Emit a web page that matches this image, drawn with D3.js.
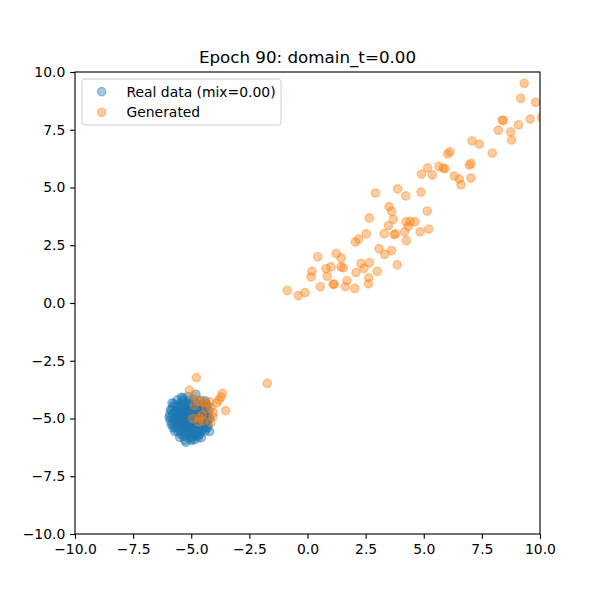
<!DOCTYPE html>
<html>
<head>
<meta charset="utf-8">
<script src="https://cdn.jsdelivr.net/npm/d3@7"></script>
<style>
  body { margin: 0; background: #fff; }
  svg { display: block; font-family: "DejaVu Sans", sans-serif; }
</style>
</head>
<body>
<div id="chart"></div>
<script>
// values
const titleText = "Epoch 90: domain_t=0.00";
const seriesNames = ["Real data (mix=0.00)", "Generated"];
const tickValues = [-10, -7.5, -5, -2.5, 0, 2.5, 5, 7.5, 10];

// real data cluster near (-5, -5)
const realX = [
  -5.83, -5.93, -5.86, -5.71, -5.50, -5.28, -5.23, -4.85, -4.57, -4.21, -4.27, -4.80, -5.35, -5.34, -5.96, -5.90,
  -5.60, -5.35, -5.10, -4.90, -4.60, -4.40,
  -5.75, -5.50, -5.25, -5.05, -4.80, -4.55, -4.35,
  -5.80, -5.60, -5.40, -5.20, -5.00, -4.75, -4.50, -4.30,
  -5.85, -5.65, -5.45, -5.25, -5.05, -4.85, -4.60, -4.40, -4.25,
  -5.80, -5.60, -5.40, -5.15, -4.95, -4.70, -4.50, -4.30,
  -5.85, -5.65, -5.45, -5.25, -5.05, -4.85, -4.65, -4.45, -4.25,
  -5.75, -5.55, -5.35, -5.15, -4.95, -4.70, -4.50, -4.30,
  -5.80, -5.60, -5.40, -5.20, -5.00, -4.80, -4.60, -4.40,
  -5.70, -5.50, -5.30, -5.10, -4.90, -4.65, -4.45, -4.30,
  -5.60, -5.40, -5.20, -5.00, -4.80, -4.60, -4.40,
  -5.45, -5.25, -5.05, -4.85, -4.65,
  -5.10, -4.95, -4.70,
  -5.50, -5.30, -5.10, -4.90, -4.70, -5.45, -5.25, -5.05, -4.85, -4.60,
  -5.55, -5.35, -5.15, -4.95, -4.75, -5.40, -5.20, -5.00, -4.80, -5.30, -5.10, -4.90,
  -5.68, -5.52, -5.33, -5.12, -4.93, -4.72, -4.52, -4.38,
  -5.72, -5.48, -5.28, -5.08, -4.88, -4.68, -4.48,
  -5.62, -5.42, -5.22, -5.02, -4.82, -4.62, -4.42,
  -5.70, -5.50, -5.30, -5.10, -4.90, -4.70, -4.50,
  -5.58, -5.38, -5.18, -4.98, -4.78, -4.58, -4.38,
  -5.65, -5.45, -5.25, -5.05, -4.85, -4.55,
  -5.52, -5.32, -5.12, -4.92, -4.72, -4.52,
  -5.40, -5.20, -5.00, -4.80, -5.30, -5.00, -4.75,
  -5.90, -5.78, -4.20, -4.33, -5.00, -5.15, -5.42, -4.65
];
const realY = [
  -4.33, -4.84, -5.27, -5.56, -5.81, -5.94, -6.03, -5.92, -5.84, -5.56, -5.28, -3.95, -4.11, -4.27, -4.95, -5.10,
  -4.20, -4.18, -4.22, -4.17, -4.21, -4.24,
  -4.35, -4.37, -4.33, -4.36, -4.34, -4.38, -4.36,
  -4.50, -4.52, -4.48, -4.51, -4.49, -4.53, -4.50, -4.48,
  -4.65, -4.67, -4.63, -4.66, -4.64, -4.68, -4.65, -4.62, -4.66,
  -4.80, -4.82, -4.78, -4.81, -4.79, -4.83, -4.80, -4.78,
  -4.95, -4.97, -4.93, -4.96, -4.94, -4.98, -4.95, -4.92, -4.96,
  -5.10, -5.12, -5.08, -5.11, -5.09, -5.13, -5.10, -5.08,
  -5.25, -5.27, -5.23, -5.26, -5.24, -5.28, -5.25, -5.22,
  -5.40, -5.42, -5.38, -5.41, -5.39, -5.43, -5.40, -5.38,
  -5.55, -5.57, -5.53, -5.56, -5.54, -5.58, -5.55,
  -5.70, -5.72, -5.68, -5.71, -5.69,
  -5.85, -5.88, -5.83,
  -4.58, -4.60, -4.57, -4.61, -4.59, -4.88, -4.90, -4.87, -4.91, -4.89,
  -5.02, -5.05, -5.03, -5.01, -5.04, -5.18, -5.20, -5.17, -5.19, -5.33, -5.35, -5.32,
  -4.42, -4.44, -4.41, -4.45, -4.43, -4.40, -4.44, -4.42,
  -4.72, -4.74, -4.71, -4.75, -4.73, -4.70, -4.74,
  -4.88, -4.86, -4.89, -4.85, -4.87, -4.90, -4.86,
  -5.03, -5.05, -5.02, -5.06, -5.04, -5.01, -5.05,
  -5.18, -5.16, -5.19, -5.15, -5.17, -5.20, -5.16,
  -5.33, -5.35, -5.32, -5.36, -5.34, -5.31,
  -5.48, -5.46, -5.49, -5.45, -5.47, -5.50,
  -5.63, -5.61, -5.64, -5.62, -5.78, -5.80, -5.76,
  -4.62, -5.40, -5.00, -5.42, -5.95, -4.05, -4.08, -5.68
];

// generated samples
const genX = [
  9.32, 9.17, 9.81, 8.42, 8.38, 8.21, 8.74, 9.07, 9.58, 10.07,
  8.78, 7.95, 7.08, 7.39, 6.13, 6.03, 7.03, 6.96, 7.03, 6.60,
  6.53, 6.31, 5.91, 5.84, 5.66, 5.17, 5.37, 4.90, 4.88, 4.22, 3.88,
  2.92, 3.51, 3.62, 2.66, 3.69, 5.15, 3.48, 4.24, 4.41, 4.62,
  4.34, 2.53, 2.20, 2.06, 3.30, 3.79, 3.72, 4.18, 4.84, 5.21,
  4.25, 3.08, 3.32, 3.62, 1.24, 1.45, 0.44, 1.01, 0.80, 1.44,
  1.54, 2.30, 2.66, 2.43, 2.09, 3.00, 3.86, 0.19, 0.15, 0.85,
  1.70, 1.10, 1.15, 1.63, 2.03, 2.63, 2.62, 0.55, -0.87, -0.40, -0.11,
  -1.73,
  -4.78, -5.08, -3.66, -3.72, -3.82, -3.91, -3.52, -4.91, -4.55, -4.41,
  -4.22, -4.87, -4.37, -4.15, -4.05, -4.52, -4.66, -4.94, -4.08, -4.48,
  -4.68, -4.15, -4.70
];
const genY = [
  9.51, 8.86, 8.69, 7.90, 7.92, 7.48, 7.41, 7.71, 7.96, 8.03,
  7.05, 6.49, 7.02, 6.88, 6.54, 6.46, 6.04, 5.97, 5.41, 5.12,
  5.36, 5.49, 5.82, 5.84, 5.91, 5.85, 5.54, 5.58, 4.80, 4.64, 4.94,
  4.76, 4.17, 3.97, 3.68, 3.62, 3.98, 3.35, 3.51, 3.53, 3.51,
  3.32, 2.99, 2.77, 2.64, 3.00, 2.99, 2.96, 3.08, 3.08, 3.20,
  2.70, 2.35, 2.11, 2.27, 2.14, 1.94, 2.00, 1.56, 1.49, 1.56,
  1.52, 1.71, 1.75, 1.50, 1.32, 1.37, 1.65, 1.37, 1.13, 1.16,
  0.97, 0.81, 0.82, 0.71, 0.63, 1.09, 0.83, 0.71, 0.54, 0.32, 0.45,
  -3.48,
  -3.23, -3.77, -3.91, -4.07, -4.20, -4.33, -4.66, -4.01, -4.28, -4.31,
  -4.28, -4.43, -4.57, -4.53, -4.74, -4.86, -4.98, -5.00, -4.93, -5.10,
  -5.15, -5.18, -4.24
];

const colors = ["#1f77b4", "#ff7f0e"];

const W = 600, H = 600;
const margin = { top: 72, right: 60, bottom: 66, left: 75 };
const plotW = W - margin.left - margin.right;
const plotH = H - margin.top - margin.bottom;

const fmt = v => d3.format(".1f")(v).replace("-", "\u2212");

const svg = d3.select("#chart").append("svg")
  .attr("width", W)
  .attr("height", H);

svg.append("defs").append("clipPath")
  .attr("id", "plot-clip")
  .append("rect")
  .attr("width", plotW)
  .attr("height", plotH);

const g = svg.append("g")
  .attr("transform", `translate(${margin.left},${margin.top})`);

const x = d3.scaleLinear().domain([-10, 10]).range([0, plotW]);
const y = d3.scaleLinear().domain([-10, 10]).range([plotH, 0]);

const r = 4.17;

function drawSeries(xs, ys, color) {
  g.append("g")
    .attr("clip-path", "url(#plot-clip)")
    .selectAll("circle")
    .data(xs.map((d, i) => [d, ys[i]]))
    .join("circle")
    .attr("cx", d => x(d[0]))
    .attr("cy", d => y(d[1]))
    .attr("r", r)
    .attr("fill", color)
    .attr("fill-opacity", 0.4)
    .attr("stroke", color)
    .attr("stroke-opacity", 0.4)
    .attr("stroke-width", 1.39);
}

drawSeries(realX, realY, colors[0]);
drawSeries(genX, genY, colors[1]);

// axes
const xAxis = g.append("g")
  .attr("transform", `translate(0,${plotH})`)
  .call(d3.axisBottom(x).tickValues(tickValues).tickFormat(fmt).tickSize(4.86).tickPadding(4.86));
const yAxis = g.append("g")
  .call(d3.axisLeft(y).tickValues(tickValues).tickFormat(fmt).tickSize(4.86).tickPadding(4.86));

[xAxis, yAxis].forEach(a => {
  a.select(".domain").remove();
  a.selectAll(".tick line").attr("stroke", "#000").attr("stroke-width", 1.11);
  a.selectAll(".tick text")
    .attr("fill", "#000")
    .style("font-size", "13.9px")
    .style("font-family", "'DejaVu Sans', sans-serif");
});

// frame
g.append("rect")
  .attr("width", plotW)
  .attr("height", plotH)
  .attr("fill", "none")
  .attr("stroke", "#000")
  .attr("stroke-width", 1.11);

// title
svg.append("text")
  .attr("x", margin.left + plotW / 2)
  .attr("y", margin.top - 8.8)
  .attr("text-anchor", "middle")
  .style("font-size", "16.7px")
  .text(titleText);

// legend
const legend = g.append("g").attr("transform", "translate(7,7)");
legend.append("rect")
  .attr("width", 199)
  .attr("height", 46)
  .attr("rx", 2.8)
  .attr("fill", "#fff")
  .attr("fill-opacity", 0.8)
  .attr("stroke", "#cccccc")
  .attr("stroke-width", 1);

seriesNames.forEach((name, i) => {
  const row = legend.append("g").attr("transform", `translate(0,${12.7 + i * 20.6})`);
  row.append("circle")
    .attr("cx", 19.7)
    .attr("cy", 0)
    .attr("r", r)
    .attr("fill", colors[i])
    .attr("fill-opacity", 0.4)
    .attr("stroke", colors[i])
    .attr("stroke-opacity", 0.4)
    .attr("stroke-width", 1.39);
  row.append("text")
    .attr("x", 44.5)
    .attr("y", 0)
    .attr("dy", "0.35em")
    .style("font-size", "13.9px")
    .text(name);
});
</script>
</body>
</html>
